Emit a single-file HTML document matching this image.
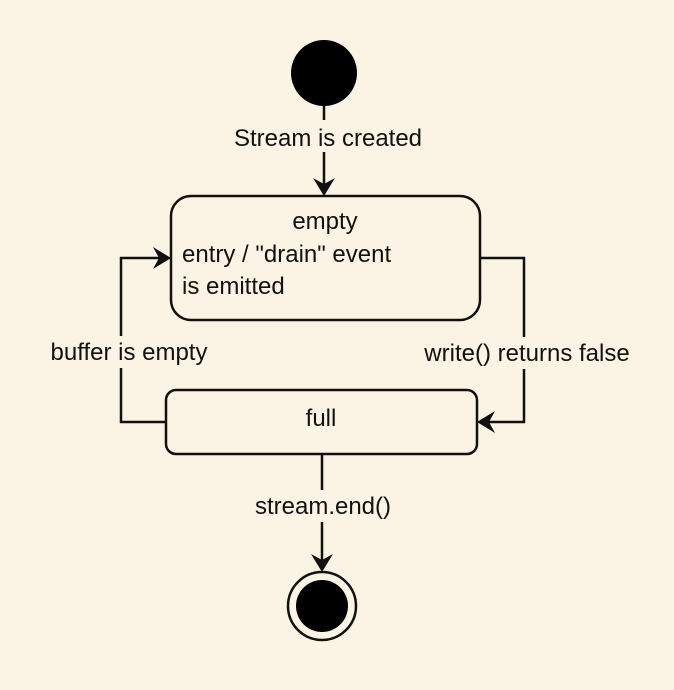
<!DOCTYPE html>
<html><head><style>
html,body{margin:0;padding:0;background:#fbf4e4;}
svg{display:block}
text{font-family:"Liberation Sans",sans-serif;font-size:24px;fill:#111;}
</style></head><body>
<svg width="674" height="690" viewBox="0 0 674 690" xmlns="http://www.w3.org/2000/svg">
<rect width="674" height="690" fill="#fbf4e4"/>
<g stroke="#111" stroke-width="2.5" fill="none">
<circle cx="324" cy="73" r="33" fill="#000" stroke="none"/>
<line x1="324" y1="106" x2="324" y2="185"/>
<rect x="171" y="196" width="309" height="124" rx="20" fill="#fbf4e4"/>
<rect x="166" y="390" width="311" height="64" rx="10" fill="#fbf4e4"/>
<polyline points="480,258 524,258 524,422 486,422"/>
<polyline points="166,422 121,422 121,258 160,258"/>
<line x1="322" y1="454" x2="322" y2="560"/>
<circle cx="322" cy="606" r="34" fill="#fbf4e4"/>
<circle cx="322" cy="606" r="26" fill="#000" stroke="none"/>
</g>
<g fill="#111">
<polygon points="324,196 313,178 324,184 335,178"/>
<polygon points="171,258 153,247 159,258 153,269"/>
<polygon points="477,422 495,411 489,422 495,433"/>
<polygon points="322,572 311,554 322,560 333,554"/>
</g>
<rect x="226" y="120" width="204" height="32" fill="#fbf4e4"/>
<text x="328" y="146" text-anchor="middle">Stream is created</text>
<text x="325" y="229" text-anchor="middle">empty</text>
<text x="182" y="262">entry / "drain" event</text>
<text x="182" y="294">is emitted</text>
<rect x="42" y="336" width="174" height="32" fill="#fbf4e4"/>
<text x="129" y="360" text-anchor="middle">buffer is empty</text>
<rect x="416" y="337" width="220" height="32" fill="#fbf4e4"/>
<text x="527" y="361" text-anchor="middle">write() returns false</text>
<text x="321" y="426" text-anchor="middle">full</text>
<rect x="246" y="490" width="156" height="32" fill="#fbf4e4"/>
<text x="323" y="514" text-anchor="middle">stream.end()</text>
</svg>
</body></html>
